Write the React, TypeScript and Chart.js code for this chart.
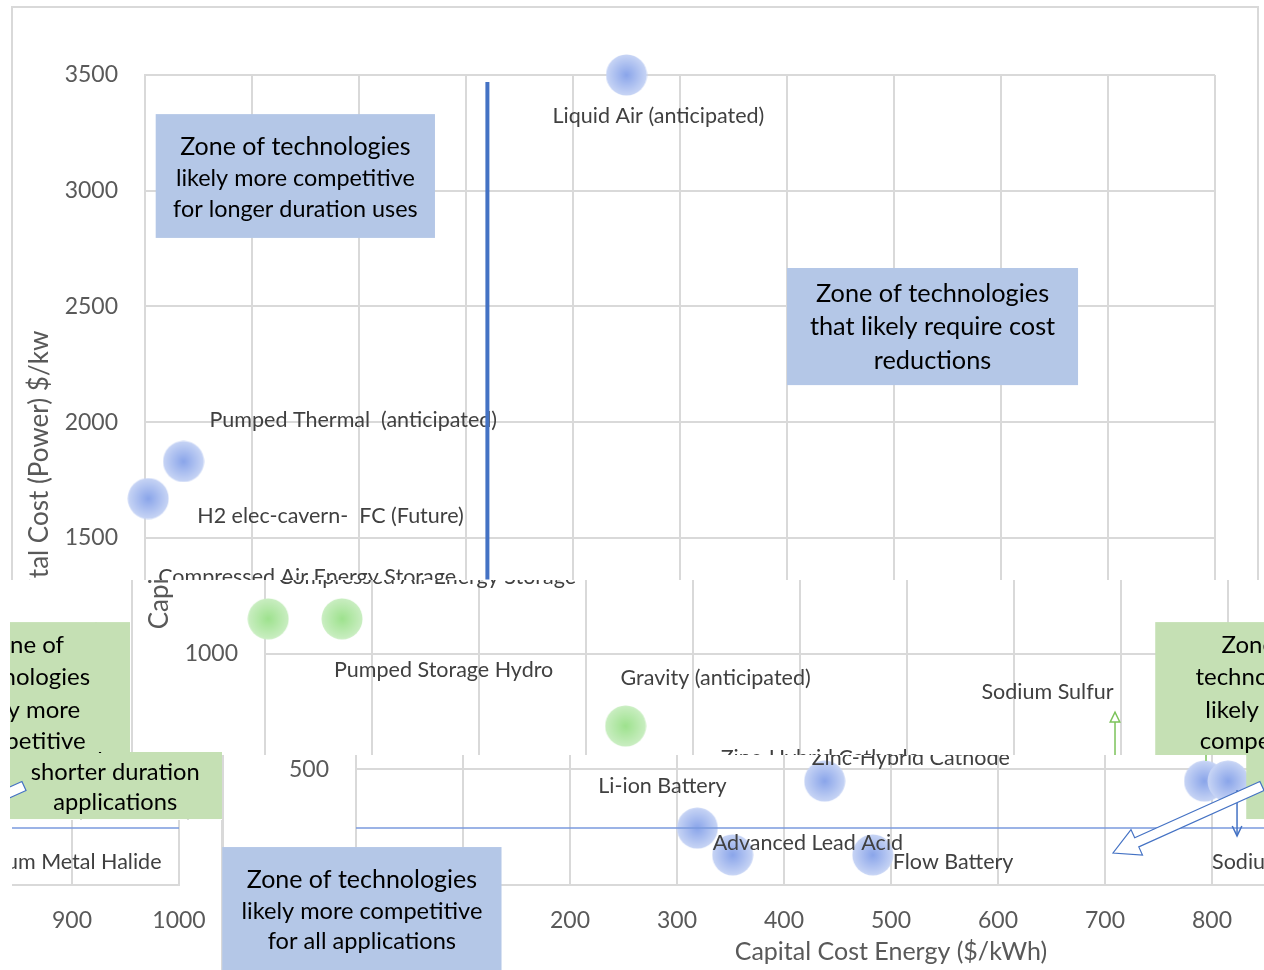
import React, { useEffect, useRef } from "react";
import { Chart, registerables } from "chart.js";

Chart.register(...registerables);

// ---------------- data ----------------
const xTickLabels = ["0", "100", "200", "300", "400", "500", "600", "700", "800", "900", "1000"];
const yTickLabels = ["0", "500", "1000", "1500", "2000", "2500", "3000", "3500"];

const blueNames = [
  "Liquid Air (anticipated)",
  "Pumped Thermal  (anticipated)",
  "H2 elec-cavern-  FC (Future)",
  "Li-ion Battery",
  "Advanced Lead Acid",
  "Zinc-Hybrid Cathode",
  "Flow Battery",
  "Sodium Sulfur",
  "Sodium Metal Halide",
];
const blueEnergyCost = [450, 36, 3, 319, 352, 438, 483, 793, 815];
const bluePowerCost = [3500, 1830, 1670, 246, 130, 449, 130, 449, 449];

const greenNames = ["Compressed Air Energy Storage", "Pumped Storage Hydro", "Gravity (anticipated)"];
const greenEnergyCost = [3, 72, 337];
const greenPowerCost = [1150, 1150, 687];

const xTitle = "Capital Cost Energy ($/kWh)";
const yTitle = "Capital Cost (Power) $/kw";

const zoneLongerLines = ["Zone of technologies", "likely more competitive", "for longer duration uses"];
const zoneCostLines = ["Zone of technologies", "that likely require cost", "reductions"];
const zoneShortLines = ["Zone of", "technologies", "likely more", "competitive", "shorter duration", "applications"];
const zoneAllLines = ["Zone of technologies", "likely more competitive", "for all applications"];

// ---------------- layout / style ----------------
const W = 1264;
const H = 970;
const FONT = "Lato, 'Open Sans', sans-serif";

const blueLabelOffsets = [
  [-74, 41], [26, -41], [49, 18], [-99, -42], [-20, -12], [-13, -23], [20, 7], [-132, -89], [-16, 81],
];
const greenLabelOffsets = [[10, -42], [-8, 51], [-5, -48]];

const zoneBoxes = [
  { lines: zoneLongerLines, x1: 10, x2: 271, y1: 3331, y2: 2796, fill: "#B4C7E7", tops: [33, 64, 95], sizes: [25, 23.4, 23.4] },
  { lines: zoneCostLines, x1: 600, x2: 872, y1: 2666, y2: 2160, fill: "#B4C7E7", tops: [26, 59, 93], sizes: [25.3, 25.3, 25.3] },
  { lines: zoneShortLines, x1: 832, x2: 1032, y1: 1136, y2: 285, fill: "#C5E0B4", tops: [23, 55, 88, 119, 150, 180], sizes: [24, 24, 24, 24, 23.7, 23.7] },
  { lines: zoneAllLines, x1: -125, x2: 136, y1: 164, y2: -372, fill: "#B4C7E7", tops: [33, 64, 94], sizes: [25, 23.6, 23.6] },
];

// fragments of the picture: horizontal shift of the whole chart and the visible clip rect
const copies = [
  { dx: 0, clip: [0, 0, 1264, 580] },
  { dx: -1119, clip: [10, 622, 130, 752] },
  { dx: 120, clip: [130, 580, 1264, 755] },
  { dx: -1027, clip: [10, 752, 222, 820] },
  { dx: -1036, clip: [12, 820, 222, 970] },
  { dx: 211, clip: [222, 755, 1264, 970] },
];

function makeSprite(inner: string, outer: string) {
  const c = document.createElement("canvas");
  c.width = 42;
  c.height = 42;
  const g = c.getContext("2d")!;
  const grad = g.createRadialGradient(21, 21, 0, 21, 21, 20.5);
  grad.addColorStop(0, inner);
  grad.addColorStop(1, outer);
  g.fillStyle = grad;
  g.beginPath();
  g.arc(21, 21, 20.5, 0, Math.PI * 2);
  g.fill();
  return c;
}

function lineArrow(ctx: CanvasRenderingContext2D, x1: number, y1: number, x2: number, y2: number, color: string, open: boolean) {
  const a = Math.atan2(y2 - y1, x2 - x1);
  ctx.save();
  ctx.strokeStyle = color;
  ctx.lineWidth = 1.5;
  ctx.beginPath();
  ctx.moveTo(x1, y1);
  ctx.lineTo(x2, y2);
  ctx.stroke();
  const hl = 11;
  const ha = 0.45;
  ctx.beginPath();
  ctx.moveTo(x2 - hl * Math.cos(a - ha), y2 - hl * Math.sin(a - ha));
  ctx.lineTo(x2, y2);
  ctx.lineTo(x2 - hl * Math.cos(a + ha), y2 - hl * Math.sin(a + ha));
  if (open) {
    ctx.closePath();
    ctx.fillStyle = "#fff";
    ctx.fill();
  }
  ctx.stroke();
  ctx.restore();
}

function blockArrow(ctx: CanvasRenderingContext2D, tx: number, ty: number, px: number, py: number) {
  const ang = Math.atan2(py - ty, px - tx);
  const len = Math.hypot(px - tx, py - ty);
  const sw = 5, hw = 14, hl = 26;
  ctx.save();
  ctx.translate(tx, ty);
  ctx.rotate(ang);
  ctx.beginPath();
  ctx.moveTo(0, -sw);
  ctx.lineTo(len - hl, -sw);
  ctx.lineTo(len - hl, -hw);
  ctx.lineTo(len, 0);
  ctx.lineTo(len - hl, hw);
  ctx.lineTo(len - hl, sw);
  ctx.lineTo(0, sw);
  ctx.closePath();
  ctx.fillStyle = "#fff";
  ctx.fill();
  ctx.strokeStyle = "#4472C4";
  ctx.lineWidth = 1.2;
  ctx.stroke();
  ctx.restore();
}

const bgPlugin = {
  id: "bg",
  beforeDraw(chart: any) {
    const ctx = chart.ctx;
    ctx.save();
    ctx.fillStyle = "#fff";
    ctx.fillRect(0, 0, W, H);
    ctx.strokeStyle = "#d9d9d9";
    ctx.lineWidth = 2;
    ctx.strokeRect(12, 7, 1246, 1000);
    ctx.restore();
  },
};

const overlayPlugin = {
  id: "overlay",
  afterDatasetsDraw(chart: any) {
    const ctx: CanvasRenderingContext2D = chart.ctx;
    const xs = chart.scales.x;
    const ys = chart.scales.y;
    const px = (v: number) => xs.getPixelForValue(v);
    const py = (v: number) => ys.getPixelForValue(v);
    ctx.save();

    // point labels
    ctx.font = `21.5px ${FONT}`;
    ctx.fillStyle = "#404040";
    ctx.textAlign = "left";
    ctx.textBaseline = "middle";
    blueNames.forEach((n, i) => {
      ctx.fillText(n, px(blueEnergyCost[i]) + blueLabelOffsets[i][0], py(bluePowerCost[i]) + blueLabelOffsets[i][1]);
    });
    greenNames.forEach((n, i) => {
      ctx.fillText(n, px(greenEnergyCost[i]) + greenLabelOffsets[i][0], py(greenPowerCost[i]) + greenLabelOffsets[i][1]);
    });

    // axis titles
    ctx.fillStyle = "#595959";
    ctx.font = `25px ${FONT}`;
    ctx.textAlign = "center";
    ctx.fillText(xTitle, (chart.chartArea.left + chart.chartArea.right) / 2, 952);
    ctx.save();
    ctx.font = `26px ${FONT}`;
    ctx.translate(40, (chart.chartArea.top + chart.chartArea.bottom) / 2);
    ctx.rotate(-Math.PI / 2);
    ctx.fillText(yTitle, 0, 0);
    ctx.restore();

    // quadrant lines
    ctx.strokeStyle = "#4472C4";
    ctx.lineWidth = 4;
    ctx.beginPath();
    ctx.moveTo(px(320), py(3470));
    ctx.lineTo(px(320), py(1320));
    ctx.stroke();
    ctx.strokeStyle = "#7a9ade";
    ctx.lineWidth = 1.5;
    ctx.beginPath();
    ctx.moveTo(px(0), py(246));
    ctx.lineTo(px(1000), py(246));
    ctx.stroke();

    // zone boxes
    zoneBoxes.forEach((b) => {
      const l = px(b.x1), r = px(b.x2), t = py(b.y1), bt = py(b.y2);
      ctx.fillStyle = b.fill;
      ctx.fillRect(l, t, r - l, bt - t);
      ctx.fillStyle = "#000";
      ctx.textAlign = "center";
      b.lines.forEach((ln, i) => {
        ctx.font = `${b.sizes[i]}px ${FONT}`;
        ctx.fillText(ln, (l + r) / 2, t + b.tops[i]);
      });
    });

    // arrows
    lineArrow(ctx, px(794.4), py(536), px(794.4), py(747), "#7CC35A", true);
    lineArrow(ctx, px(823.4), py(410), px(823.4), py(212), "#4472C4", false);
    blockArrow(ctx, px(846.7), py(427.8), px(707.5), py(138.3));

    ctx.restore();
  },
};

function makeConfig(blueSprite: HTMLCanvasElement, greenSprite: HTMLCanvasElement): any {
  const tickFont = { family: FONT, size: 23 };
  return {
    type: "scatter",
    data: {
      datasets: [
        {
          label: "Other technologies",
          data: blueEnergyCost.map((x, i) => ({ x, y: bluePowerCost[i] })),
          pointStyle: blueSprite,
          pointRadius: 20,
          clip: false,
        },
        {
          label: "Shorter duration",
          data: greenEnergyCost.map((x, i) => ({ x, y: greenPowerCost[i] })),
          pointStyle: greenSprite,
          pointRadius: 20,
          clip: false,
        },
      ],
    },
    options: {
      responsive: false,
      animation: false,
      events: [],
      layout: { padding: { left: 0, top: 75, right: 49, bottom: 0 } },
      plugins: { legend: { display: false }, tooltip: { enabled: false } },
      scales: {
        x: {
          type: "linear",
          min: 0,
          max: 1000,
          ticks: {
            stepSize: 100,
            font: tickFont,
            color: "#595959",
            padding: 22,
            maxRotation: 0,
            callback: (_v: any, i: number) => xTickLabels[i],
          },
          grid: { color: "#d9d9d9", lineWidth: 2, drawTicks: false },
          border: { color: "#d9d9d9", width: 2 },
          afterFit: (s: any) => {
            s.height = 85;
          },
        },
        y: {
          type: "linear",
          min: 0,
          max: 3500,
          ticks: {
            stepSize: 500,
            font: tickFont,
            color: "#595959",
            padding: 27,
            callback: (_v: any, i: number) => yTickLabels[i],
          },
          grid: { color: "#d9d9d9", lineWidth: 2, drawTicks: false },
          border: { color: "#d9d9d9", width: 2 },
          afterFit: (s: any) => {
            s.width = 145;
          },
        },
      },
    },
    plugins: [bgPlugin, overlayPlugin],
  };
}

function ChartCopy({ dx, clip }: { dx: number; clip: number[] }) {
  const ref = useRef<HTMLCanvasElement>(null);
  useEffect(() => {
    const blue = makeSprite("rgb(138,165,234)", "rgb(200,213,245)");
    const green = makeSprite("rgb(158,226,142)", "rgb(202,238,194)");
    const chart = new Chart(ref.current!, makeConfig(blue, green));
    return () => chart.destroy();
  }, []);
  return (
    <div
      style={{
        position: "absolute",
        left: clip[0],
        top: clip[1],
        width: clip[2] - clip[0],
        height: clip[3] - clip[1],
        overflow: "hidden",
      }}
    >
      <canvas
        ref={ref}
        width={W}
        height={H}
        style={{ position: "absolute", left: dx - clip[0], top: -clip[1], width: W, height: H }}
      />
    </div>
  );
}

export default function App() {
  return (
    <div
      style={{
        position: "fixed",
        left: 0,
        top: 0,
        width: W,
        height: H,
        overflow: "hidden",
        background: "#fff",
      }}
    >
      {copies.map((c, i) => (
        <ChartCopy key={i} dx={c.dx} clip={c.clip} />
      ))}
    </div>
  );
}
